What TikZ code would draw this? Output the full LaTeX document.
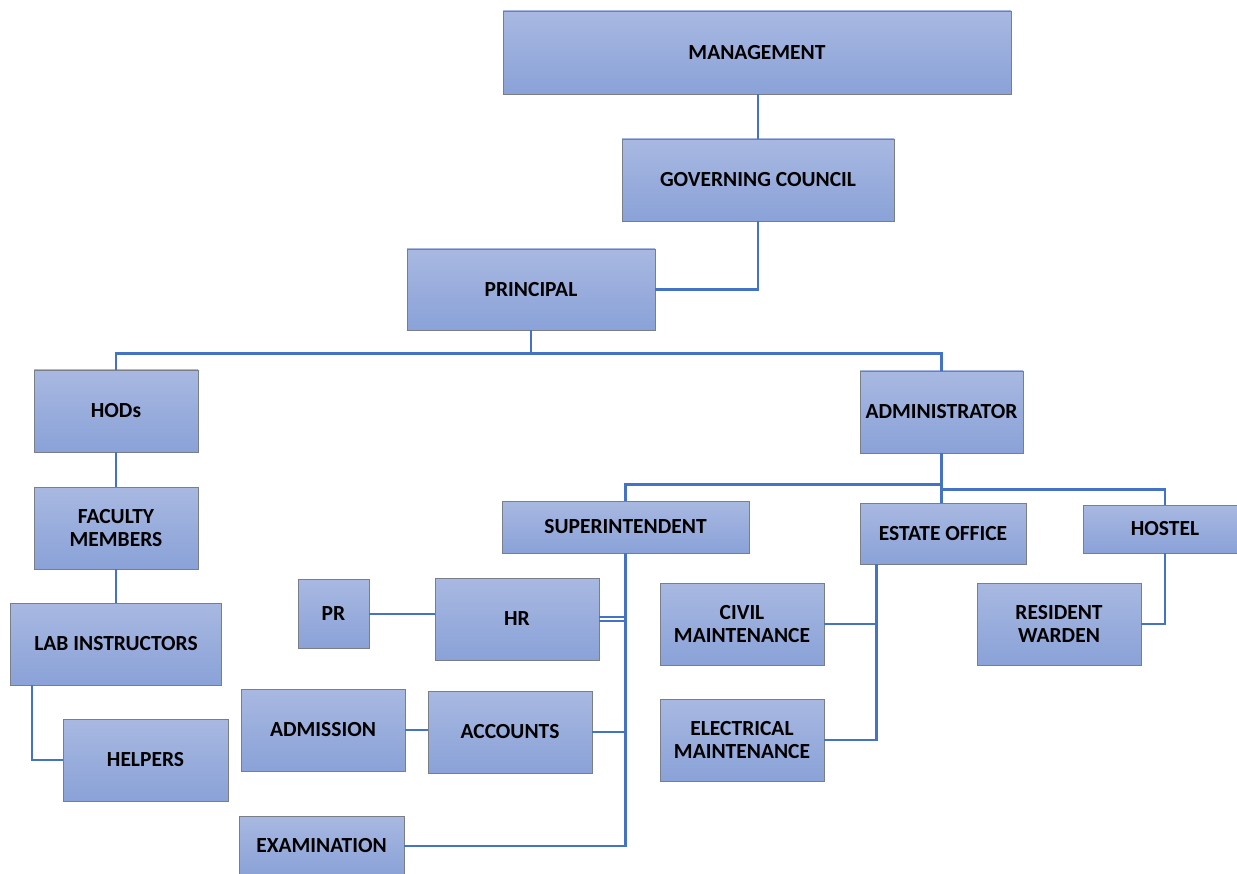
\documentclass[tikz,border=0pt]{standalone}
\usepackage{fontspec}
\setmainfont{Carlito}
\usepackage{tikz}
\usetikzlibrary{positioning, calc}
\definecolor{boxtop}{HTML}{A8B8E1}
\definecolor{boxbot}{HTML}{8AA2D8}
\definecolor{boxedge}{HTML}{7A7E86}
\definecolor{linkblue}{HTML}{4472C4}
\tikzset{
    unit/.style={rectangle, draw=boxedge, line width=0.9pt, top color=boxtop,
      bottom color=boxbot, align=center, inner sep=2pt,
      font=\fontsize{21.5}{23.5}\selectfont\bfseries},
    link/.style={draw=linkblue, line width=2.2pt},
    thinlink/.style={draw=linkblue, line width=1.4pt},
}

\begin{document}
\begin{tikzpicture}[x=1pt, y=-1pt]
    \useasboundingbox (0,0) rectangle (1237,874);
    \clip (0,0) rectangle (1237,874);

    \node[unit, minimum width=508pt, minimum height=83pt] (mgmt) at (757,52.5) {MANAGEMENT};
    \node[unit, minimum width=272pt, minimum height=82pt] (gc) at (758,180) {GOVERNING COUNCIL};
    \node[unit, minimum width=248pt, minimum height=81pt] (prin) at (531,289.5) {PRINCIPAL};

    \node[unit, minimum width=164pt, minimum height=82pt] (hod) at (116,411) {HODs};
    \node[unit, minimum width=164pt, minimum height=82pt] (fac) at (116,528) {FACULTY\\MEMBERS};
    \node[unit, minimum width=211pt, minimum height=82pt] (lab) at (116,644) {LAB INSTRUCTORS};
    \node[unit, minimum width=165pt, minimum height=82pt] (help) at (145.5,760) {HELPERS};

    \node[unit, minimum width=163pt, minimum height=82pt] (adm) at (941.5,412) {ADMINISTRATOR};
    \node[unit, minimum width=247pt, minimum height=52pt] (sup) at (625.5,527) {SUPERINTENDENT};
    \node[unit, minimum width=166pt, minimum height=61pt] (est) at (943,533.5) {ESTATE OFFICE};
    \node[unit, minimum width=164pt, minimum height=48pt] (hos) at (1165,529) {HOSTEL};

    \node[unit, minimum width=71pt, minimum height=69pt] (pr) at (333.5,614) {PR};
    \node[unit, minimum width=164pt, minimum height=82pt] (hr) at (517,619) {HR};
    \node[unit, minimum width=164pt, minimum height=82pt] (admis) at (323,730) {ADMISSION};
    \node[unit, minimum width=164pt, minimum height=82pt] (acc) at (510,732) {ACCOUNTS};
    \node[unit, minimum width=165pt, minimum height=60pt] (exam) at (321.5,846) {EXAMINATION};

    \node[unit, minimum width=164pt, minimum height=82pt] (civ) at (742,624) {CIVIL\\MAINTENANCE};
    \node[unit, minimum width=164pt, minimum height=82pt] (elec) at (742,740) {ELECTRICAL\\MAINTENANCE};
    \node[unit, minimum width=164pt, minimum height=82pt] (res) at (1059,624) {RESIDENT\\WARDEN};

    % top of the chart
    \draw[link] (gc.north) -- (gc.north |- mgmt.south);
    \draw[link] (gc.south) |- (prin.east);
    \coordinate (j1) at ($(prin.south)+(0,23)$);
    \draw[link] (prin.south) -- (j1);
    \draw[link] (hod.north) |- (j1) -| (adm.north);

    % academic side
    \draw[link] (hod.south) -- (fac.north);
    \draw[link] (fac.south) -- (lab.north);
    \draw[link] ([xshift=22pt]lab.south west) |- (help.west);

    % administration side
    \coordinate (j2) at ($(adm.south)+(0,31)$);
    \coordinate (j3) at ($(j2)+(0,5)$);
    \draw[link] (adm.south) -- (j2) -| (sup.north);
    \draw[link] (j2) -- (j3) -| (hos.north);
    \draw[link] (j3) -- (j3 |- est.north);

    \draw[link] (sup.south) |- (exam.east);
    \draw[thinlink] ([yshift=-2pt]hr.east) -- ([yshift=-2pt]hr.east -| sup.south);
    \draw[thinlink] ([yshift=2pt]hr.east) -- ([yshift=2pt]hr.east -| sup.south);
    \draw[link] (acc.east) -- (acc.east -| sup.south);
    \draw[link] (pr.east) -- (pr.east -| hr.west);
    \draw[link] (admis.east) -- (admis.east -| acc.west);

    \coordinate (e1) at ([xshift=17pt]est.south west);
    \draw[link] (e1) |- (elec.east);
    \draw[link] (civ.east) -- (civ.east -| e1);
    \draw[link] (hos.south) |- (res.east);
\end{tikzpicture}
\end{document}
